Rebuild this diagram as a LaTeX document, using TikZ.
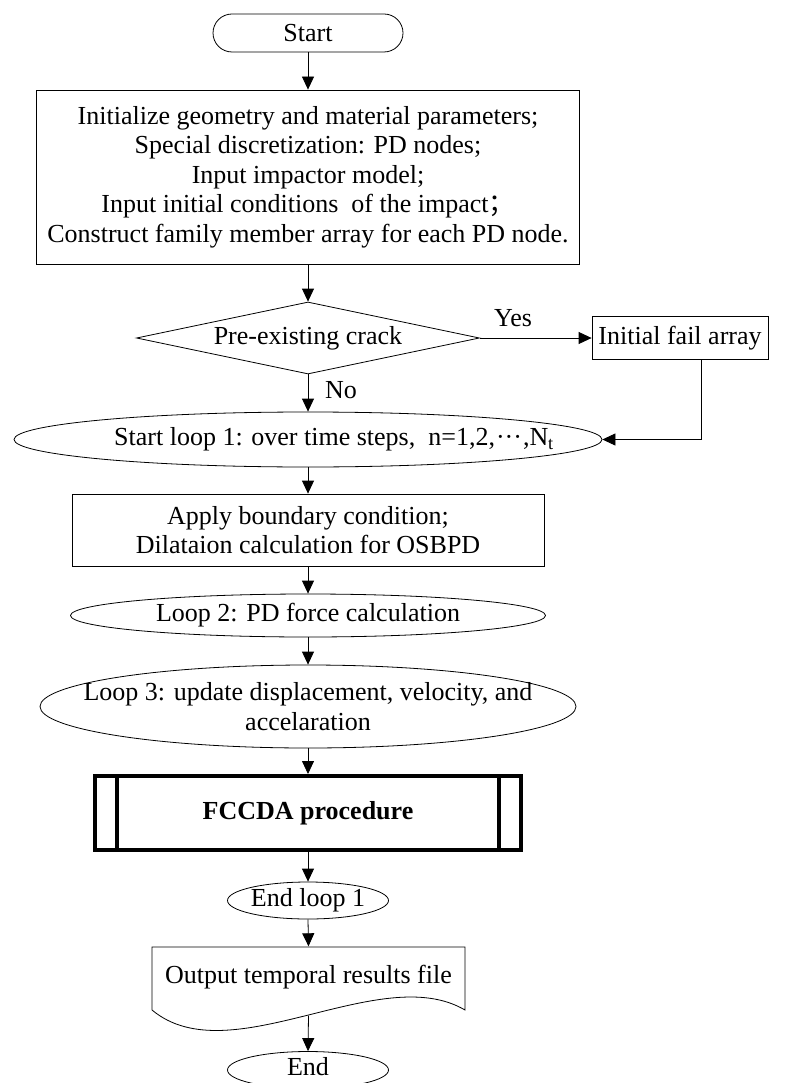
\documentclass[tikz,border=0pt]{standalone}
\usepackage{fontspec}
\setmainfont{Liberation Serif}
\newfontfamily\cjk{Noto Sans CJK SC}
\usetikzlibrary{arrows.meta,shapes.geometric}
\begin{document}
\begin{tikzpicture}[x=1pt,y=-1pt,
  txt/.style={font=\fontsize{26}{29.5}\selectfont, inner sep=0pt, align=center},
  shp/.style={draw, line width=0.8pt, inner sep=0pt, fill=white},
  terminal/.style={shp, rounded corners=19pt, minimum width=190pt, minimum height=38pt},
  procbox/.style={shp, rectangle, txt},
  ovalnode/.style={shp, ellipse},
  decision/.style={shp, diamond, aspect=4.8, txt},
  flow/.style={line width=0.8pt, -{Triangle[length=13pt,width=12pt]}},
  thickbox/.style={draw, line width=4pt, inner sep=0pt}
]
\useasboundingbox (0,0) rectangle (800,1083);

\node[terminal, txt] (start) at (308,33) {Start};
\node[procbox, minimum width=543pt, minimum height=174pt] (init) at (308,177)
  {Initialize geometry and material parameters;\\
   Special discretization: PD nodes;\\
   Input impactor model;\\
   Input initial conditions\ \ of the impact{\cjk ；}\\
   Construct family member array for each PD node.};
\node[decision, minimum width=343pt, minimum height=72pt] (crack) at (308,338) {Pre-existing crack};
\node[procbox, minimum width=176pt, minimum height=43pt] (fail) at (680,338) {Initial fail array};
\node[txt] (yes) at (513,318) {Yes};
\node[txt] (no) at (341,390) {No};

\node[ovalnode, minimum width=588pt, minimum height=55pt] (loop1) at (308,439.5) {};
\node[txt] (loop1t) at (334,439.5) {Start loop 1: over time steps,\ \ n=1,2,\kern1pt···\kern1pt,N\textsubscript{t}};

\node[procbox, minimum width=472pt, minimum height=72pt] (apply) at (308,530)
  {Apply boundary condition;\\ Dilataion calculation for OSBPD};

\node[ovalnode, minimum width=475pt, minimum height=43pt] (loop2) at (308,615.5) {};
\node[txt] (loop2t) at (loop2) {Loop 2: PD force calculation};

\node[ovalnode, minimum width=536pt, minimum height=83pt] (loop3) at (308,706.5) {};
\node[txt] (loop3t) at (loop3) {Loop 3: update displacement, velocity, and\\ accelaration};

\node[thickbox, minimum width=426pt, minimum height=74pt, txt, font=\fontsize{26}{29.5}\selectfont\bfseries] (fccda) at (308,813) {FCCDA procedure};
\draw[line width=4pt] ([xshift=24pt]fccda.north west) -- ([xshift=24pt]fccda.south west);
\draw[line width=4pt] ([xshift=-24pt]fccda.north east) -- ([xshift=-24pt]fccda.south east);

\node[ovalnode, minimum width=161pt, minimum height=37pt] (end1) at (308,900.5) {};
\node[txt] (end1t) at (end1) {End loop 1};

\node[txt, minimum width=313pt, minimum height=61pt] (out) at (308.5,977) {Output temporal results file};
\draw[line width=0.8pt] (152,1010) -- (152,947) -- (465,947) -- (465,1010)
  .. controls (380,960) and (230,1075) .. (152,1010);
\coordinate (outb) at (308.5,1015.6);

\node[ovalnode, minimum width=161pt, minimum height=37pt] (finish) at (308,1070) {};
\node[txt] (finisht) at (308,1067) {End};

\draw[flow] (start.south) -- (init.north);
\draw[flow] (init.south) -- (crack.north);
\draw[flow] (crack.east) -- (fail.west);
\draw[flow] (crack.south) -- (loop1.north);
\draw[flow] ([xshift=21pt]fail.south) |- (loop1.east);
\draw[flow] (loop1.south) -- (apply.north);
\draw[flow] (apply.south) -- (loop2.north);
\draw[flow] (loop2.south) -- (loop3.north);
\draw[flow] (loop3.south) -- (fccda.north);
\draw[flow] (fccda.south) -- (end1.north);
\draw[flow] (end1.south) -- (out.north);
\draw[flow] (outb) -- (finish.north);
\end{tikzpicture}
\end{document}
